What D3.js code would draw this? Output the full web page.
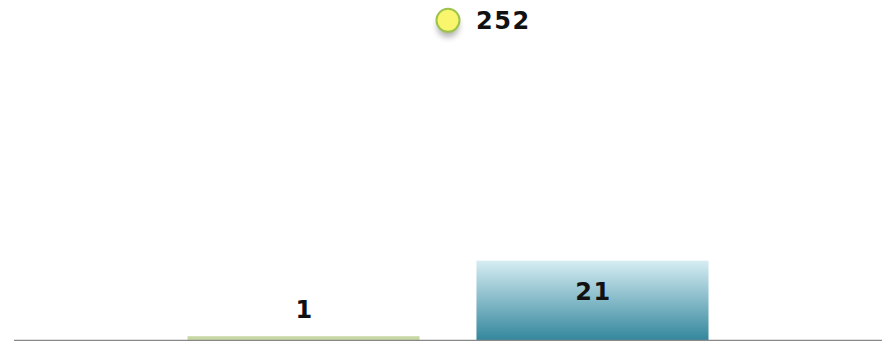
<!DOCTYPE html>
<html>
<head>
<meta charset="utf-8">
<script src="https://cdn.jsdelivr.net/npm/d3@7"></script>
<style>
  html, body { margin: 0; padding: 0; background: #fff; }
  svg { display: block; }
  .lbl { font-family: "DejaVu Sans", Verdana, sans-serif; font-weight: bold; font-size: 24px; fill: #111; letter-spacing: 1.5px; }
</style>
</head>
<body>
<svg id="chart" width="888" height="341"></svg>
<script>
// Data
const categories = ["Total"];
const barSeries = ["Series A", "Series B"];
const barValues = [1, 21];
const pointSeries = ["Series C"];
const pointValues = [252];

const W = 888, H = 341;
const plot = { left: 14, right: 882, top: 0, bottom: 340 };

const svg = d3.select("#chart");
const defs = svg.append("defs");

// Gradient for the second bar
const grad = defs.append("linearGradient")
  .attr("id", "tealGrad").attr("x1", 0).attr("y1", 0).attr("x2", 0).attr("y2", 1);
grad.append("stop").attr("offset", "0%").attr("stop-color", "#d6edf3");
grad.append("stop").attr("offset", "100%").attr("stop-color", "#34879d");

const shadow = defs.append("filter").attr("id", "ptShadow")
  .attr("x", "-100%").attr("y", "-100%").attr("width", "300%").attr("height", "300%");
shadow.append("feGaussianBlur").attr("stdDeviation", 3);

const x0 = d3.scaleBand().domain(categories).range([plot.left, plot.right])
  .paddingInner(0).paddingOuter(0.333);
const x1 = d3.scaleBand().domain(barSeries).range([0, x0.bandwidth()])
  .paddingInner(0.197).paddingOuter(0);
const y = d3.scaleLinear().domain([0, 90]).range([plot.bottom, plot.top]);
const y2 = d3.scaleLinear().domain([0, 268]).range([plot.bottom, plot.top]);

const barFills = ["#c8d8a4", "url(#tealGrad)"];

const g = svg.append("g");
const bars = barSeries.map((s, i) => ({ series: s, value: barValues[i], cat: categories[0], fill: barFills[i] }));

g.selectAll("rect.bar").data(bars).join("rect")
  .attr("class", "bar")
  .attr("x", d => x0(d.cat) + x1(d.series))
  .attr("y", d => y(d.value))
  .attr("width", x1.bandwidth())
  .attr("height", d => y(0) - y(d.value))
  .attr("fill", d => d.fill);

// Value labels: inside the bar when it is tall enough, otherwise above it
g.selectAll("text.barLbl").data(bars).join("text")
  .attr("class", "lbl barLbl")
  .attr("text-anchor", "middle")
  .attr("x", d => x0(d.cat) + x1(d.series) + x1.bandwidth() / 2 + 1)
  .attr("y", d => {
    const h = y(0) - y(d.value);
    return h > 40 ? y(d.value) + 39 : y(d.value) - 18;
  })
  .text(d => d.value);

// Baseline
svg.append("line")
  .attr("x1", plot.left).attr("x2", plot.right)
  .attr("y1", plot.bottom + 0.5).attr("y2", plot.bottom + 0.5)
  .attr("stroke", "#888").attr("stroke-width", 1.5);

// Point series
const pts = pointValues.map((v, i) => ({ series: pointSeries[i], value: v, cat: categories[0] }));
const pg = svg.append("g");
pg.selectAll("circle.shadow").data(pts).join("circle")
  .attr("cx", d => x0(d.cat) + x0.bandwidth() / 2)
  .attr("cy", d => y2(d.value) + 6)
  .attr("r", 11)
  .attr("fill", "#000").attr("opacity", 0.3)
  .attr("filter", "url(#ptShadow)");
pg.selectAll("circle.pt").data(pts).join("circle")
  .attr("cx", d => x0(d.cat) + x0.bandwidth() / 2)
  .attr("cy", d => y2(d.value))
  .attr("r", 11.5)
  .attr("fill", "#f9f56c")
  .attr("stroke", "#9dc44a").attr("stroke-width", 2);
pg.selectAll("text.ptLbl").data(pts).join("text")
  .attr("class", "lbl ptLbl")
  .attr("x", d => x0(d.cat) + x0.bandwidth() / 2 + 28)
  .attr("y", d => y2(d.value) + 9)
  .text(d => d.value);
</script>
</body>
</html>
